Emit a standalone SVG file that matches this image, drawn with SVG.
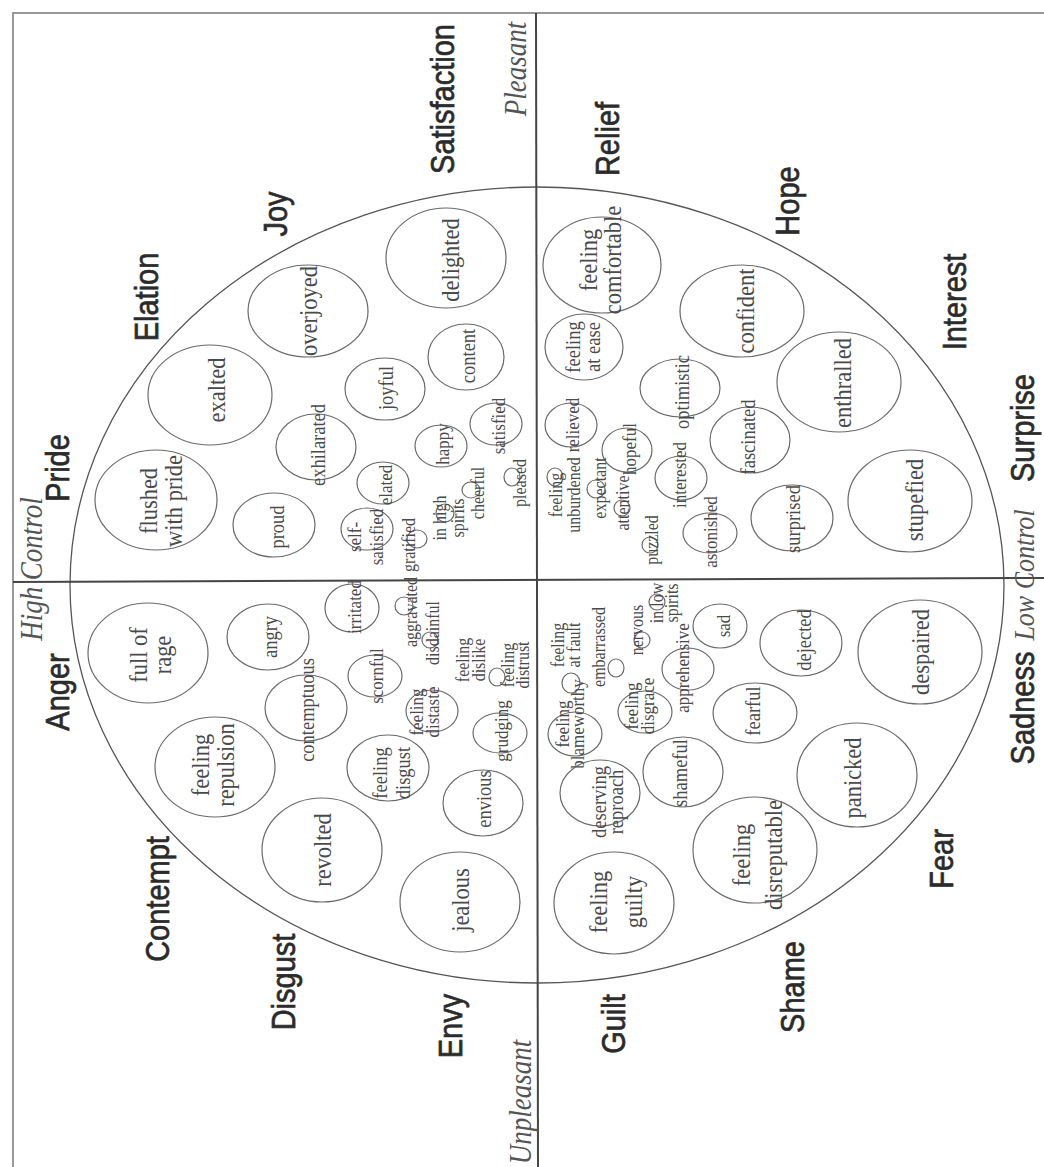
<svg xmlns="http://www.w3.org/2000/svg" width="1044" height="1167" viewBox="0 0 1044 1167">
<style>
.c{fill:none;stroke:#6a6a6a;stroke-width:1.2}
.ring{fill:none;stroke:#555;stroke-width:1.3}
.ln{stroke:#454545;stroke-width:2;fill:none}
.fr{stroke:#777;stroke-width:1.5;fill:none}
text{font-family:"Liberation Serif","Times New Roman",serif;fill:#4a4a4a;text-anchor:middle;dominant-baseline:central}
.tl{font-size:22.5px}
.tm{font-size:18.5px}
.ts{font-size:17px}
.tt{font-size:16px}
.cat{font-family:"Liberation Sans",Arial,sans-serif;font-size:29px;fill:#2b2b2b;stroke:#2b2b2b;stroke-width:0.6}
.ax{font-style:italic;font-size:27px;dominant-baseline:auto;fill:#555}
</style>
<rect width="1044" height="1167" fill="#fff"/>
<g id="frame">
<path class="fr" d="M13 1167 V13 H1044"/>
<ellipse class="ring" cx="537" cy="585" rx="467" ry="398"/>
</g>
<g id="connectors">
<line class="ln" x1="536" y1="13" x2="538" y2="1167"/>
<line class="ln" x1="13" y1="582" x2="1044" y2="578"/>
</g>
<g id="axis-labels">
<text class="ax" transform="translate(526 69) scale(1.15 1) rotate(-90)">Pleasant</text>
<text class="ax" transform="translate(531 1102) scale(1.15 1) rotate(-90)">Unpleasant</text>
<text class="ax" transform="translate(42 569) scale(1.15 1) rotate(-90)">High Control</text>
<text class="ax" style="font-size:26px" transform="translate(1034 575) scale(1.15 1) rotate(-90)">Low Control</text>
</g>
<g id="families">
<text id="f-satisfaction" class="cat" transform="translate(443 99) scale(1.15 1) rotate(-90)">Satisfaction</text>
<text id="f-joy" class="cat" transform="translate(276 214) scale(1.15 1) rotate(-90)">Joy</text>
<text id="f-elation" class="cat" transform="translate(147 297) scale(1.15 1) rotate(-90)">Elation</text>
<text id="f-pride" class="cat" transform="translate(58 468) scale(1.15 1) rotate(-90)">Pride</text>
<text id="f-anger" class="cat" transform="translate(58 692) scale(1.15 1) rotate(-90)">Anger</text>
<text id="f-contempt" class="cat" transform="translate(158 899) scale(1.15 1) rotate(-90)">Contempt</text>
<text id="f-disgust" class="cat" transform="translate(284 982) scale(1.15 1) rotate(-90)">Disgust</text>
<text id="f-envy" class="cat" transform="translate(451 1026) scale(1.15 1) rotate(-90)">Envy</text>
<text id="f-guilt" class="cat" transform="translate(614 1024) scale(1.15 1) rotate(-90)">Guilt</text>
<text id="f-shame" class="cat" transform="translate(793 987) scale(1.15 1) rotate(-90)">Shame</text>
<text id="f-fear" class="cat" transform="translate(942 859) scale(1.15 1) rotate(-90)">Fear</text>
<text id="f-sadness" class="cat" transform="translate(1023 708) scale(1.15 1) rotate(-90)">Sadness</text>
<text id="f-surprise" class="cat" transform="translate(1023 428) scale(1.15 1) rotate(-90)">Surprise</text>
<text id="f-interest" class="cat" transform="translate(955 302) scale(1.15 1) rotate(-90)">Interest</text>
<text id="f-hope" class="cat" transform="translate(788 201) scale(1.15 1) rotate(-90)">Hope</text>
<text id="f-relief" class="cat" transform="translate(608 139) scale(1.15 1) rotate(-90)">Relief</text>
</g>
<g id="n-flushed"><ellipse class="c" cx="156" cy="500" rx="61" ry="50"/><text class="tl" transform="translate(160 501) scale(1.15 1) rotate(-90)"><tspan x="0" y="-10.9">flushed</tspan><tspan x="0" y="10.9">with pride</tspan></text></g>
<g id="n-exalted"><ellipse class="c" cx="210" cy="395" rx="62" ry="50"/><text class="tl" transform="translate(216 390) scale(1.15 1) rotate(-90)">exalted</text></g>
<g id="n-overjoyed"><ellipse class="c" cx="308" cy="311" rx="60" ry="46"/><text class="tl" transform="translate(308 311) scale(1.15 1) rotate(-90)">overjoyed</text></g>
<g id="n-delighted"><ellipse class="c" cx="446" cy="258" rx="60" ry="50"/><text class="tl" transform="translate(450 260) scale(1.15 1) rotate(-90)">delighted</text></g>
<g id="n-joyful"><ellipse class="c" cx="385" cy="389" rx="40" ry="31"/><text class="tm" transform="translate(386 388) scale(1.15 1) rotate(-90)">joyful</text></g>
<g id="n-content"><ellipse class="c" cx="466" cy="357" rx="38" ry="33"/><text class="tm" transform="translate(468 356) scale(1.15 1) rotate(-90)">content</text></g>
<g id="n-exhilarated"><ellipse class="c" cx="316" cy="447" rx="40" ry="33"/><text class="tm" transform="translate(318 445) scale(1.15 1) rotate(-90)">exhilarated</text></g>
<g id="n-proud"><ellipse class="c" cx="274" cy="525" rx="41" ry="32"/><text class="tm" transform="translate(277 527) scale(1.15 1) rotate(-90)">proud</text></g>
<g id="n-elated"><ellipse class="c" cx="383" cy="483" rx="26" ry="21"/><text class="ts" transform="translate(386 485) scale(1.15 1) rotate(-90)">elated</text></g>
<g id="n-happy"><ellipse class="c" cx="441" cy="446" rx="26" ry="21"/><text class="ts" transform="translate(443 444) scale(1.15 1) rotate(-90)">happy</text></g>
<g id="n-satisfied"><ellipse class="c" cx="496" cy="424" rx="26" ry="21"/><text class="ts" transform="translate(499 426) scale(1.15 1) rotate(-90)">satisfied</text></g>
<g id="n-selfsatisfied"><ellipse class="c" cx="367" cy="529" rx="26" ry="21"/><text class="ts" transform="translate(366 537) scale(1.15 1) rotate(-90)"><tspan x="0" y="-9.6">self-</tspan><tspan x="0" y="9.6">satisfied</tspan></text></g>
<g id="n-gratified"><ellipse class="c" cx="417" cy="539" rx="10" ry="9"/><text class="tt" transform="translate(409 545) scale(1.15 1) rotate(-90)">gratified</text></g>
<g id="n-inhighspirits"><ellipse class="c" cx="445" cy="513" rx="9" ry="9"/><text class="tt" transform="translate(449 518) scale(1.15 1) rotate(-90)"><tspan x="0" y="-7.8">in high</tspan><tspan x="0" y="7.8">spirits</tspan></text></g>
<g id="n-cheerful"><ellipse class="c" cx="471" cy="490" rx="9" ry="8"/><text class="tt" transform="translate(478 493) scale(1.15 1) rotate(-90)">cheerful</text></g>
<g id="n-pleased"><ellipse class="c" cx="512" cy="477" rx="8" ry="9"/><text class="tt" transform="translate(520 483) scale(1.15 1) rotate(-90)">pleased</text></g>
<g id="n-aggravated"><ellipse class="c" cx="404" cy="606" rx="9" ry="9"/><text class="tt" transform="translate(411 612) scale(1.15 1) rotate(-90)">aggravated</text></g>
<g id="n-fullofrage"><ellipse class="c" cx="148" cy="653" rx="60" ry="50"/><text class="tl" transform="translate(149 655) scale(1.15 1) rotate(-90)"><tspan x="0" y="-10.4">full of</tspan><tspan x="0" y="10.4">rage</tspan></text></g>
<g id="n-angry"><ellipse class="c" cx="268" cy="637" rx="41" ry="33"/><text class="tm" transform="translate(270 637) scale(1.15 1) rotate(-90)">angry</text></g>
<g id="n-irritated"><ellipse class="c" cx="352" cy="608" rx="27" ry="24"/><text class="ts" transform="translate(355 607) scale(1.15 1) rotate(-90)">irritated</text></g>
<g id="n-contemptuous"><ellipse class="c" cx="306" cy="708" rx="41" ry="33"/><text class="tm" transform="translate(307 710) scale(1.15 1) rotate(-90)">contemptuous</text></g>
<g id="n-scornful"><ellipse class="c" cx="375" cy="676" rx="27" ry="21"/><text class="ts" transform="translate(377 676) scale(1.15 1) rotate(-90)">scornful</text></g>
<g id="n-disdainful"><ellipse class="c" cx="430" cy="640" rx="8" ry="8"/><text class="tt" transform="translate(433 633) scale(1.15 1) rotate(-90)">disdainful</text></g>
<g id="n-dislike"><text class="tt" transform="translate(471 660) scale(1.15 1) rotate(-90)"><tspan x="0" y="-7">feeling</tspan><tspan x="0" y="7">dislike</tspan></text></g>
<g id="n-distrust"><ellipse class="c" cx="497" cy="677" rx="8" ry="9"/><text class="tt" transform="translate(515 665) scale(1.15 1) rotate(-90)"><tspan x="0" y="-6.5">feeling</tspan><tspan x="0" y="6.5">distrust</tspan></text></g>
<g id="n-distaste"><ellipse class="c" cx="432" cy="711" rx="26" ry="21"/><text class="ts" transform="translate(425 712) scale(1.15 1) rotate(-90)"><tspan x="0" y="-7">feeling</tspan><tspan x="0" y="7">distaste</tspan></text></g>
<g id="n-grudging"><ellipse class="c" cx="500" cy="733" rx="27" ry="20"/><text class="ts" transform="translate(502 731) scale(1.15 1) rotate(-90)">grudging</text></g>
<g id="n-disgust"><ellipse class="c" cx="388" cy="768" rx="41" ry="33"/><text class="tm" transform="translate(391 773) scale(1.15 1) rotate(-90)"><tspan x="0" y="-9.6">feeling</tspan><tspan x="0" y="9.6">disgust</tspan></text></g>
<g id="n-repulsion"><ellipse class="c" cx="215" cy="767" rx="60" ry="50"/><text class="tl" transform="translate(212 765) scale(1.15 1) rotate(-90)"><tspan x="0" y="-10.9">feeling</tspan><tspan x="0" y="10.9">repulsion</tspan></text></g>
<g id="n-revolted"><ellipse class="c" cx="322" cy="850" rx="60" ry="52"/><text class="tl" transform="translate(322 850) scale(1.15 1) rotate(-90)">revolted</text></g>
<g id="n-envious"><ellipse class="c" cx="483" cy="803" rx="40" ry="33"/><text class="tm" transform="translate(484 799) scale(1.15 1) rotate(-90)">envious</text></g>
<g id="n-jealous"><ellipse class="c" cx="460" cy="902" rx="60" ry="50"/><text class="tl" transform="translate(460 900) scale(1.15 1) rotate(-90)">jealous</text></g>
<g id="n-comfortable"><ellipse class="c" cx="602" cy="265" rx="59" ry="48"/><text class="tl" transform="translate(599 260) scale(1.15 1) rotate(-90)"><tspan x="0" y="-10.4">feeling</tspan><tspan x="0" y="10.4">comfortable</tspan></text></g>
<g id="n-confident"><ellipse class="c" cx="742" cy="311" rx="62" ry="46"/><text class="tl" transform="translate(745 311) scale(1.15 1) rotate(-90)">confident</text></g>
<g id="n-atease"><ellipse class="c" cx="584" cy="347" rx="39" ry="33"/><text class="tm" transform="translate(583 347) scale(1.15 1) rotate(-90)"><tspan x="0" y="-8.7">feeling</tspan><tspan x="0" y="8.7">at ease</tspan></text></g>
<g id="n-enthralled"><ellipse class="c" cx="839" cy="382" rx="62" ry="50"/><text class="tl" transform="translate(842 383) scale(1.15 1) rotate(-90)">enthralled</text></g>
<g id="n-optimistic"><ellipse class="c" cx="680" cy="388" rx="40" ry="29"/><text class="tm" transform="translate(682 392) scale(1.15 1) rotate(-90)">optimistic</text></g>
<g id="n-relieved"><ellipse class="c" cx="571" cy="425" rx="26" ry="22"/><text class="ts" transform="translate(573 425) scale(1.15 1) rotate(-90)">relieved</text></g>
<g id="n-unburdened"><ellipse class="c" cx="555" cy="477" rx="8" ry="9"/><text class="tt" transform="translate(565 495) scale(1.15 1) rotate(-90)"><tspan x="0" y="-7.8">feeling</tspan><tspan x="0" y="7.8">unburdened</tspan></text></g>
<g id="n-hopeful"><ellipse class="c" cx="627" cy="450" rx="25" ry="22"/><text class="ts" transform="translate(630 449) scale(1.15 1) rotate(-90)">hopeful</text></g>
<g id="n-expectant"><ellipse class="c" cx="596" cy="489" rx="9" ry="9"/><text class="tt" transform="translate(600 488) scale(1.15 1) rotate(-90)">expectant</text></g>
<g id="n-attentive"><ellipse class="c" cx="622" cy="508" rx="8" ry="8"/><text class="tt" transform="translate(623 503) scale(1.15 1) rotate(-90)">attentive</text></g>
<g id="n-interested"><ellipse class="c" cx="681" cy="478" rx="26" ry="22"/><text class="ts" transform="translate(680 475) scale(1.15 1) rotate(-90)">interested</text></g>
<g id="n-fascinated"><ellipse class="c" cx="750" cy="440" rx="40" ry="33"/><text class="tm" transform="translate(748 437) scale(1.15 1) rotate(-90)">fascinated</text></g>
<g id="n-puzzled"><ellipse class="c" cx="650" cy="545" rx="8" ry="8"/><text class="tt" transform="translate(652 540) scale(1.15 1) rotate(-90)">puzzled</text></g>
<g id="n-astonished"><ellipse class="c" cx="710" cy="533" rx="27" ry="20"/><text class="ts" transform="translate(711 532) scale(1.15 1) rotate(-90)">astonished</text></g>
<g id="n-surprised"><ellipse class="c" cx="792" cy="518" rx="41" ry="33"/><text class="tm" transform="translate(793 519) scale(1.15 1) rotate(-90)">surprised</text></g>
<g id="n-stupefied"><ellipse class="c" cx="910" cy="501" rx="62" ry="51"/><text class="tl" transform="translate(914 500) scale(1.15 1) rotate(-90)">stupefied</text></g>
<g id="n-atfault"><ellipse class="c" cx="571" cy="683" rx="9" ry="10"/><text class="tt" transform="translate(566 645) scale(1.15 1) rotate(-90)"><tspan x="0" y="-7">feeling</tspan><tspan x="0" y="7">at fault</tspan></text></g>
<g id="n-blameworthy"><ellipse class="c" cx="575" cy="734" rx="27" ry="22"/><text class="ts" transform="translate(570 724) scale(1.15 1) rotate(-90)"><tspan x="0" y="-6.5">feeling</tspan><tspan x="0" y="6.5">blameworthy</tspan></text></g>
<g id="n-embarrassed"><ellipse class="c" cx="616" cy="668" rx="8" ry="9"/><text class="tt" transform="translate(599 647) scale(1.15 1) rotate(-90)">embarrassed</text></g>
<g id="n-nervous"><ellipse class="c" cx="642" cy="640" rx="8" ry="8"/><text class="tt" transform="translate(637 630) scale(1.15 1) rotate(-90)">nervous</text></g>
<g id="n-inlowspirits"><ellipse class="c" cx="657" cy="602" rx="8" ry="8"/><text class="tt" transform="translate(664 603) scale(1.15 1) rotate(-90)"><tspan x="0" y="-6.5">in low</tspan><tspan x="0" y="6.5">spirits</tspan></text></g>
<g id="n-sad"><ellipse class="c" cx="720" cy="626" rx="27" ry="22"/><text class="ts" transform="translate(724 626) scale(1.15 1) rotate(-90)">sad</text></g>
<g id="n-apprehensive"><ellipse class="c" cx="688" cy="669" rx="26" ry="21"/><text class="ts" transform="translate(683 668) scale(1.15 1) rotate(-90)">apprehensive</text></g>
<g id="n-disgrace"><ellipse class="c" cx="645" cy="712" rx="27" ry="21"/><text class="ts" transform="translate(640 706) scale(1.15 1) rotate(-90)"><tspan x="0" y="-7">feeling</tspan><tspan x="0" y="7">disgrace</tspan></text></g>
<g id="n-fearful"><ellipse class="c" cx="755" cy="713" rx="42" ry="30"/><text class="tm" transform="translate(753 711) scale(1.15 1) rotate(-90)">fearful</text></g>
<g id="n-dejected"><ellipse class="c" cx="801" cy="643" rx="41" ry="33"/><text class="tm" transform="translate(804 640) scale(1.15 1) rotate(-90)">dejected</text></g>
<g id="n-shameful"><ellipse class="c" cx="683" cy="772" rx="40" ry="35"/><text class="tm" transform="translate(680 773) scale(1.15 1) rotate(-90)">shameful</text></g>
<g id="n-reproach"><ellipse class="c" cx="600" cy="793" rx="40" ry="33"/><text class="tm" transform="translate(607 802) scale(1.15 1) rotate(-90)"><tspan x="0" y="-7.4">deserving</tspan><tspan x="0" y="7.4">reproach</tspan></text></g>
<g id="n-panicked"><ellipse class="c" cx="857" cy="775" rx="60" ry="52"/><text class="tl" transform="translate(852 778) scale(1.15 1) rotate(-90)">panicked</text></g>
<g id="n-despaired"><ellipse class="c" cx="920" cy="652" rx="62" ry="52"/><text class="tl" transform="translate(920 652) scale(1.15 1) rotate(-90)">despaired</text></g>
<g id="n-guilty"><ellipse class="c" cx="614" cy="903" rx="60" ry="51"/><text class="tl" transform="translate(615 902) scale(1.15 1) rotate(-90)"><tspan x="0" y="-15">feeling</tspan><tspan x="0" y="15">guilty</tspan></text></g>
<g id="n-disreputable"><ellipse class="c" cx="755" cy="850" rx="62" ry="53"/><text class="tl" transform="translate(756 855) scale(1.15 1) rotate(-90)"><tspan x="0" y="-14">feeling</tspan><tspan x="0" y="14">disreputable</tspan></text></g>
</svg>
